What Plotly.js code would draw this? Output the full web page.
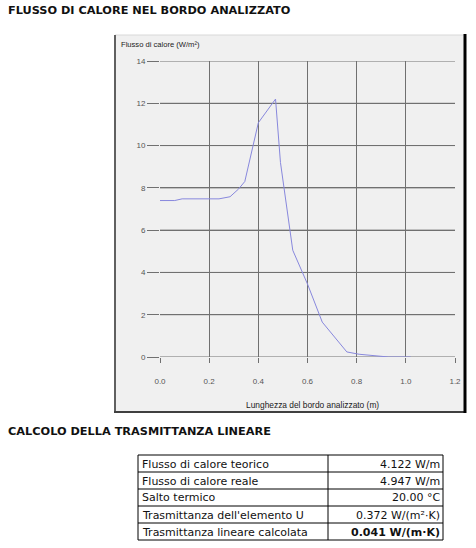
<!DOCTYPE html>
<html>
<head>
<meta charset="utf-8">
<script src="https://cdn.plot.ly/plotly-3.0.1.min.js"></script>
<style>html,body{margin:0;padding:0;background:#fff;}#chart{width:476px;height:548px;}</style>
</head>
<body>
<div id="chart"></div>
<script>
// Data
var lengthM = [0, 0.06, 0.09, 0.24, 0.285, 0.32, 0.345, 0.40, 0.47, 0.49, 0.54, 0.60, 0.66, 0.76, 0.81, 0.88, 0.93, 1.02];
var heatFlux = [7.40, 7.40, 7.48, 7.48, 7.58, 7.95, 8.30, 11.08, 12.20, 9.20, 5.05, 3.45, 1.65, 0.24, 0.13, 0.04, 0.0, 0.0];
var xTicks = [0, 0.2, 0.4, 0.6, 0.8, 1.0, 1.2];
var xTickLabels = ['0.0', '0.2', '0.4', '0.6', '0.8', '1.0', '1.2'];
var yTicks = [0, 2, 4, 6, 8, 10, 12, 14];

var tableLabels = ['Flusso di calore teorico', 'Flusso di calore reale', 'Salto termico',
  "Trasmittanza dell'elemento U", 'Trasmittanza lineare calcolata'];
var tableValues = ['4.122 W/m', '4.947 W/m', '20.00 °C', '0.372 W/(m²·K)', '<b>0.041 W/(m·K)</b>'];

var W = 476, H = 548;
function px(x) { return x / W; }
function py(y) { return 1 - y / H; }

var gridCol = '#707070';
var tickFont = {family: 'Liberation Sans, Arial, sans-serif', size: 8, color: '#555'};
var tblFont = {family: 'DejaVu Sans, Verdana, sans-serif', size: 11, color: '#111'};

var traces = [
  {
    type: 'scatter', mode: 'lines', x: lengthM, y: heatFlux,
    line: {color: '#8888dd', width: 1}, hoverinfo: 'skip', showlegend: false
  }
];

var shapes = [
  {type: 'rect', xref: 'paper', yref: 'paper', layer: 'below',
   x0: px(115), x1: px(465), y0: py(412), y1: py(35),
   fillcolor: '#f0f0f0', line: {width: 0}},
  {type: 'line', xref: 'paper', yref: 'paper', x0: px(115), x1: px(465), y0: py(35), y1: py(35),
   line: {color: '#d8d8d8', width: 1}},
  {type: 'line', xref: 'paper', yref: 'paper', x0: px(115), x1: px(115), y0: py(412), y1: py(35),
   line: {color: '#606060', width: 2}},
  {type: 'line', xref: 'paper', yref: 'paper', x0: px(114), x1: px(466), y0: py(412), y1: py(412),
   line: {color: '#404040', width: 2}},
  {type: 'line', xref: 'paper', yref: 'paper', x0: px(465), x1: px(465), y0: py(413), y1: py(34),
   line: {color: '#000', width: 3}}
];
// horizontal gridlines at the y tick values
yTicks.forEach(function (v) {
  shapes.push({type: 'line', xref: 'x domain', yref: 'y', layer: 'below',
    x0: 0, x1: 1, y0: v, y1: v, line: {color: gridCol, width: 1}});
});

// table geometry (pixels)
var tL = 138, tR = 443, tSplit = 328, tTop = 455, rowH = 17;
var nRows = tableLabels.length;
var tBot = tTop + rowH * nRows;
shapes.push({type: 'rect', xref: 'paper', yref: 'paper', x0: px(tL), x1: px(tR), y0: py(tBot), y1: py(tTop),
  fillcolor: '#fff', line: {color: '#000', width: 1}});
shapes.push({type: 'line', xref: 'paper', yref: 'paper', x0: px(tSplit), x1: px(tSplit), y0: py(tBot), y1: py(tTop),
  line: {color: '#000', width: 1}});
for (var i = 1; i < nRows; i++) {
  shapes.push({type: 'line', xref: 'paper', yref: 'paper', x0: px(tL), x1: px(tR),
    y0: py(tTop + rowH * i), y1: py(tTop + rowH * i), line: {color: '#000', width: 1}});
}

var annotations = [
  {xref: 'paper', yref: 'paper', x: px(6), y: py(10), xanchor: 'left', yanchor: 'middle',
   text: '<b>FLUSSO DI CALORE NEL BORDO ANALIZZATO</b>', showarrow: false,
   font: {family: 'DejaVu Sans, Verdana, sans-serif', size: 11.3, color: '#111'}},
  {xref: 'paper', yref: 'paper', x: px(6), y: py(431), xanchor: 'left', yanchor: 'middle',
   text: '<b>CALCOLO DELLA TRASMITTANZA LINEARE</b>', showarrow: false,
   font: {family: 'DejaVu Sans, Verdana, sans-serif', size: 11.3, color: '#111'}},
  {xref: 'paper', yref: 'paper', x: px(119), y: py(44), xanchor: 'left', yanchor: 'middle',
   text: 'Flusso di calore (W/m²)', showarrow: false,
   font: {family: 'Liberation Sans, Arial, sans-serif', size: 7.6, color: '#222'}},
  {xref: 'paper', yref: 'paper', x: px(312), y: py(405), xanchor: 'center', yanchor: 'middle',
   text: 'Lunghezza del bordo analizzato (m)', showarrow: false,
   font: {family: 'Liberation Sans, Arial, sans-serif', size: 8.4, color: '#222'}}
];
for (var r = 0; r < nRows; r++) {
  var cy = py(tTop + rowH * r + rowH / 2 + 0.5);
  annotations.push({xref: 'paper', yref: 'paper', x: px(tL + 2), y: cy, xanchor: 'left', yanchor: 'middle',
    text: tableLabels[r], showarrow: false, font: tblFont});
  annotations.push({xref: 'paper', yref: 'paper', x: px(tR - 1), y: cy, xanchor: 'right', yanchor: 'middle',
    text: tableValues[r], showarrow: false, font: tblFont});
}

var layout = {
  width: W, height: H,
  margin: {l: 0, r: 0, t: 0, b: 0},
  paper_bgcolor: '#fff', plot_bgcolor: 'rgba(0,0,0,0)',
  showlegend: false,
  xaxis: {
    domain: [px(160), px(455)], range: [0, 1.2],
    tickvals: xTicks, ticktext: xTickLabels,
    showgrid: true, gridcolor: gridCol, gridwidth: 1,
    zeroline: false, showline: false,
    ticks: 'outside', ticklen: 5, tickcolor: gridCol, tickwidth: 1,
    ticklabelstandoff: 11,
    tickfont: tickFont, fixedrange: true
  },
  yaxis: {
    domain: [py(357), py(61)], range: [0, 14],
    tickvals: yTicks,
    showgrid: true, gridcolor: gridCol, gridwidth: 1,
    zeroline: false, showline: false,
    ticks: 'outside', ticklen: 12, tickcolor: gridCol, tickwidth: 1,
    tickfont: tickFont, fixedrange: true
  },
  shapes: shapes,
  annotations: annotations
};

Plotly.newPlot('chart', traces, layout, {displayModeBar: false, staticPlot: true});
</script>
</body>
</html>
